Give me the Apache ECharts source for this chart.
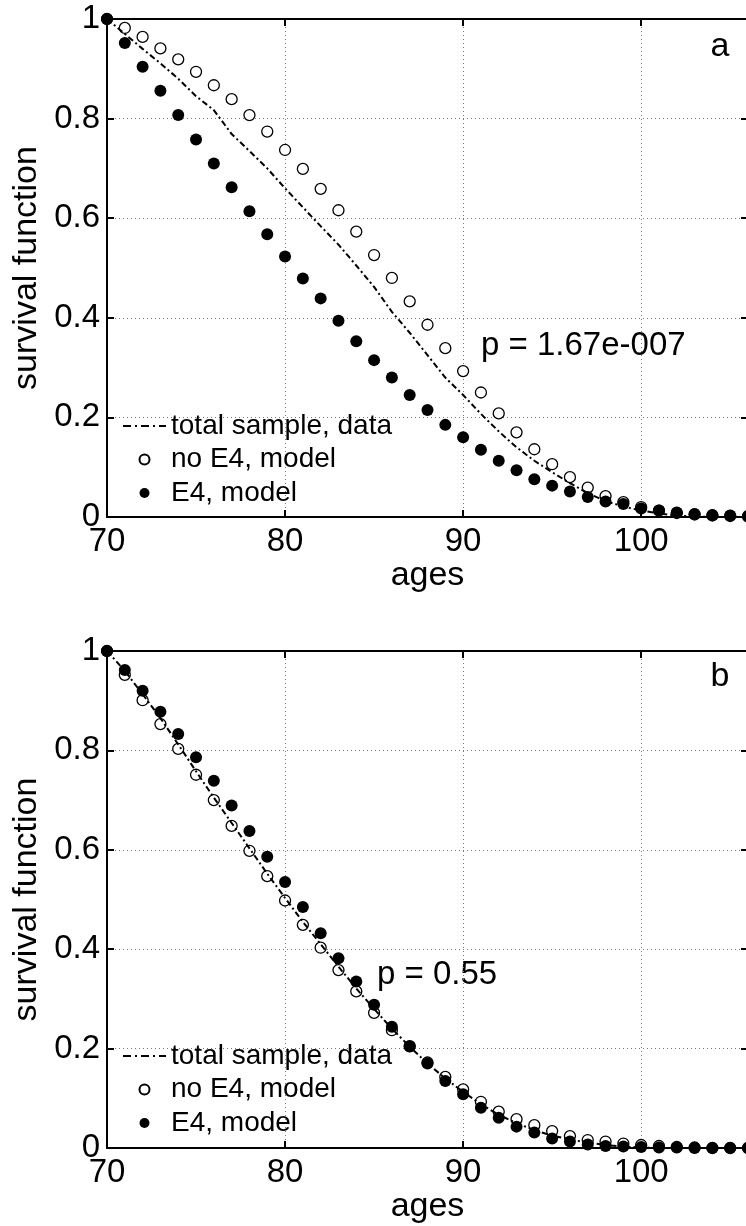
<!DOCTYPE html>
<html><head><meta charset="utf-8">
<script src="https://cdn.jsdelivr.net/npm/echarts@6/dist/echarts.min.js"></script>
<style>html,body{margin:0;padding:0;background:#fff;overflow:hidden}#c{width:746px;height:1226px}</style>
</head><body><div id="c"></div>
<script>
// ages (x values)
const ages = [70,71,72,73,74,75,76,77,78,79,80,81,82,83,84,85,86,87,88,89,90,91,92,93,94,95,96,97,98,99,100,101,102,103,104,105,106];
// panel a
const aTotal = [1.000,0.970,0.940,0.911,0.880,0.845,0.817,0.769,0.735,0.700,0.660,
  0.622,0.584,0.547,0.505,0.462,0.412,0.370,0.325,0.280,0.245,
  0.207,0.172,0.140,0.113,0.090,0.068,0.048,0.032,0.021,0.013,
  0.007,0.003,0.001,0,0,0];
const aNoE4 = [1.000,0.982,0.964,0.941,0.919,0.894,0.867,0.839,0.807,0.774,0.737,
  0.699,0.659,0.616,0.573,0.526,0.480,0.433,0.386,0.339,0.293,
  0.250,0.208,0.170,0.136,0.106,0.080,0.059,0.042,0.030,0.020,
  0.013,0.008,0.005,0.003,0.002,0.001];
const aE4 = [1.000,0.952,0.904,0.856,0.807,0.758,0.710,0.662,0.614,0.568,0.523,
  0.479,0.439,0.394,0.353,0.315,0.280,0.245,0.215,0.185,0.160,
  0.135,0.113,0.094,0.076,0.063,0.051,0.040,0.031,0.026,0.017,
  0.013,0.009,0.006,0.004,0.003,0.002];
// panel b
const bTotal = [1.000,0.960,0.913,0.865,0.812,0.758,0.705,0.654,0.603,0.552,0.503,
  0.455,0.410,0.365,0.321,0.280,0.240,0.204,0.170,0.140,0.113,
  0.088,0.067,0.050,0.036,0.025,0.017,0.011,0.006,0.003,0.001,
  0,0,0,0,0,0];
const bNoE4 = [1.000,0.952,0.901,0.853,0.803,0.751,0.700,0.648,0.598,0.547,0.498,
  0.449,0.403,0.358,0.315,0.272,0.237,0.205,0.172,0.143,0.118,
  0.093,0.073,0.058,0.046,0.034,0.024,0.016,0.013,0.009,0.006,
  0.004,0.002,0.001,0,0,0];
const bE4 = [1.000,0.962,0.920,0.878,0.833,0.786,0.739,0.689,0.638,0.586,0.535,
  0.485,0.432,0.382,0.335,0.288,0.244,0.204,0.170,0.135,0.108,
  0.081,0.061,0.043,0.031,0.019,0.013,0.007,0.004,0.003,0.002,
  0.001,0.001,0,0,0,0];
const xTicks = [70,80,90,100];
const yTicks = [0,0.2,0.4,0.6,0.8,1];
const seriesNames = ['total sample, data','no E4, model','E4, model'];
const panelLabels = ['a','b'];
const pTexts = ['p = 1.67e-007','p = 0.55'];

const FONT = '"Liberation Sans", Arial, Helvetica, sans-serif';
const zip = (ys) => ages.map((a,i)=>[a, ys[i]]);

const gridPos = [{left:107, top:19, width:641, height:498},{left:107, top:651, width:641, height:497}];
const axisLineStyle = {color:'#000', width:2};
const splitStyle = {show:true, lineStyle:{color:'#7a7a7a', width:1, type:[1,3]}};
const tickStyle = {show:true, inside:true, length:7, lineStyle:{color:'#000', width:2}};

const xAxis = [], yAxis = [];
gridPos.forEach((g, gi) => {
  xAxis.push({
    type:'value', gridIndex:gi, min:70, max:106, interval:10, position:'bottom',
    axisLine:{show:true, onZero:false, lineStyle:axisLineStyle},
    axisTick:tickStyle,
    axisLabel:{show:true, color:'#000', fontSize:33, fontFamily:FONT, margin:8, showMaxLabel:false,
      formatter:(v)=> xTicks.includes(v) ? String(v) : ''},
    splitLine:splitStyle,
    name:'ages', nameLocation:'middle', nameGap:42,
    nameTextStyle:{color:'#000', fontSize:34, fontFamily:FONT}
  });
  xAxis.push({
    type:'value', gridIndex:gi, min:70, max:106, interval:10, position:'top',
    axisLine:{show:true, onZero:false, lineStyle:axisLineStyle},
    axisTick:tickStyle,
    axisLabel:{show:false}, splitLine:{show:false}
  });
  yAxis.push({
    type:'value', gridIndex:gi, min:0, max:1, interval:0.2, position:'left',
    axisLine:{show:true, onZero:false, lineStyle:axisLineStyle},
    axisTick:tickStyle,
    axisLabel:{show:true, color:'#000', fontSize:33, fontFamily:FONT, margin:7,
      formatter:(v)=> String(Math.round(v*10)/10)},
    splitLine:splitStyle,
    name:'survival function', nameLocation:'middle', nameGap:58,
    nameTextStyle:{color:'#000', fontSize:34, fontFamily:FONT}
  });
  yAxis.push({
    type:'value', gridIndex:gi, min:0, max:1, interval:0.2, position:'right',
    axisLine:{show:false, onZero:false},
    axisTick:tickStyle,
    axisLabel:{show:false}, splitLine:{show:false}
  });
});

const panels = [[aTotal,aNoE4,aE4],[bTotal,bNoE4,bE4]];
const series = [];
panels.forEach((p, gi) => {
  const xi = gi*2, yi = gi*2;
  series.push({
    name:seriesNames[1], type:'scatter', xAxisIndex:xi, yAxisIndex:yi,
    data:zip(p[1]), symbol:'circle', symbolSize:11, z:3,
    itemStyle:{color:'#fff', borderColor:'#000', borderWidth:1.3, opacity:1}
  });
  series.push({
    name:seriesNames[0], type:'line', xAxisIndex:xi, yAxisIndex:yi,
    data:zip(p[0]), symbol:'none', showSymbol:false, z:4,
    lineStyle:{color:'#000', width:2, type:[6,3,2,3]},
    itemStyle:{color:'#000'}
  });
  series.push({
    name:seriesNames[2], type:'scatter', xAxisIndex:xi, yAxisIndex:yi,
    data:zip(p[2]), symbol:'circle', symbolSize:12, z:5,
    itemStyle:{color:'#000', borderWidth:0, opacity:1}
  });
});

const legendTops = [412, 1042];
const legend = legendTops.map(t => ({
  orient:'vertical', left:122, top:t, padding:0,
  itemWidth:43, itemHeight:10, itemGap:5.5, selectedMode:false,
  textStyle:{color:'#000', fontSize:28, fontFamily:FONT, lineHeight:28},
  data:[
    {name:seriesNames[0], itemStyle:{color:'rgba(0,0,0,0)', borderColor:'rgba(0,0,0,0)', borderWidth:0, opacity:0},
      lineStyle:{color:'#000', width:2, type:[8,4,2,4]}},
    {name:seriesNames[1]},
    {name:seriesNames[2]}
  ]
}));

const graphic = [
  {type:'text', x:720, y:47, style:{text:panelLabels[0], fill:'#000', fontSize:34, fontFamily:FONT, align:'center', verticalAlign:'middle'}},
  {type:'text', x:720, y:677, style:{text:panelLabels[1], fill:'#000', fontSize:34, fontFamily:FONT, align:'center', verticalAlign:'middle'}},
  {type:'text', x:481, y:346, style:{text:pTexts[0], fill:'#000', fontSize:33, fontFamily:FONT, align:'left', verticalAlign:'middle'}},
  {type:'text', x:377, y:975, style:{text:pTexts[1], fill:'#000', fontSize:33, fontFamily:FONT, align:'left', verticalAlign:'middle'}}
];

const chart = echarts.init(document.getElementById('c'), null, {renderer:'canvas'});
chart.setOption({
  backgroundColor:'#fff', animation:false,
  grid:gridPos.map(g=>Object.assign({containLabel:false, outerBoundsMode:'none'}, g)),
  xAxis, yAxis, series, legend, graphic
});
</script>
</body></html>
